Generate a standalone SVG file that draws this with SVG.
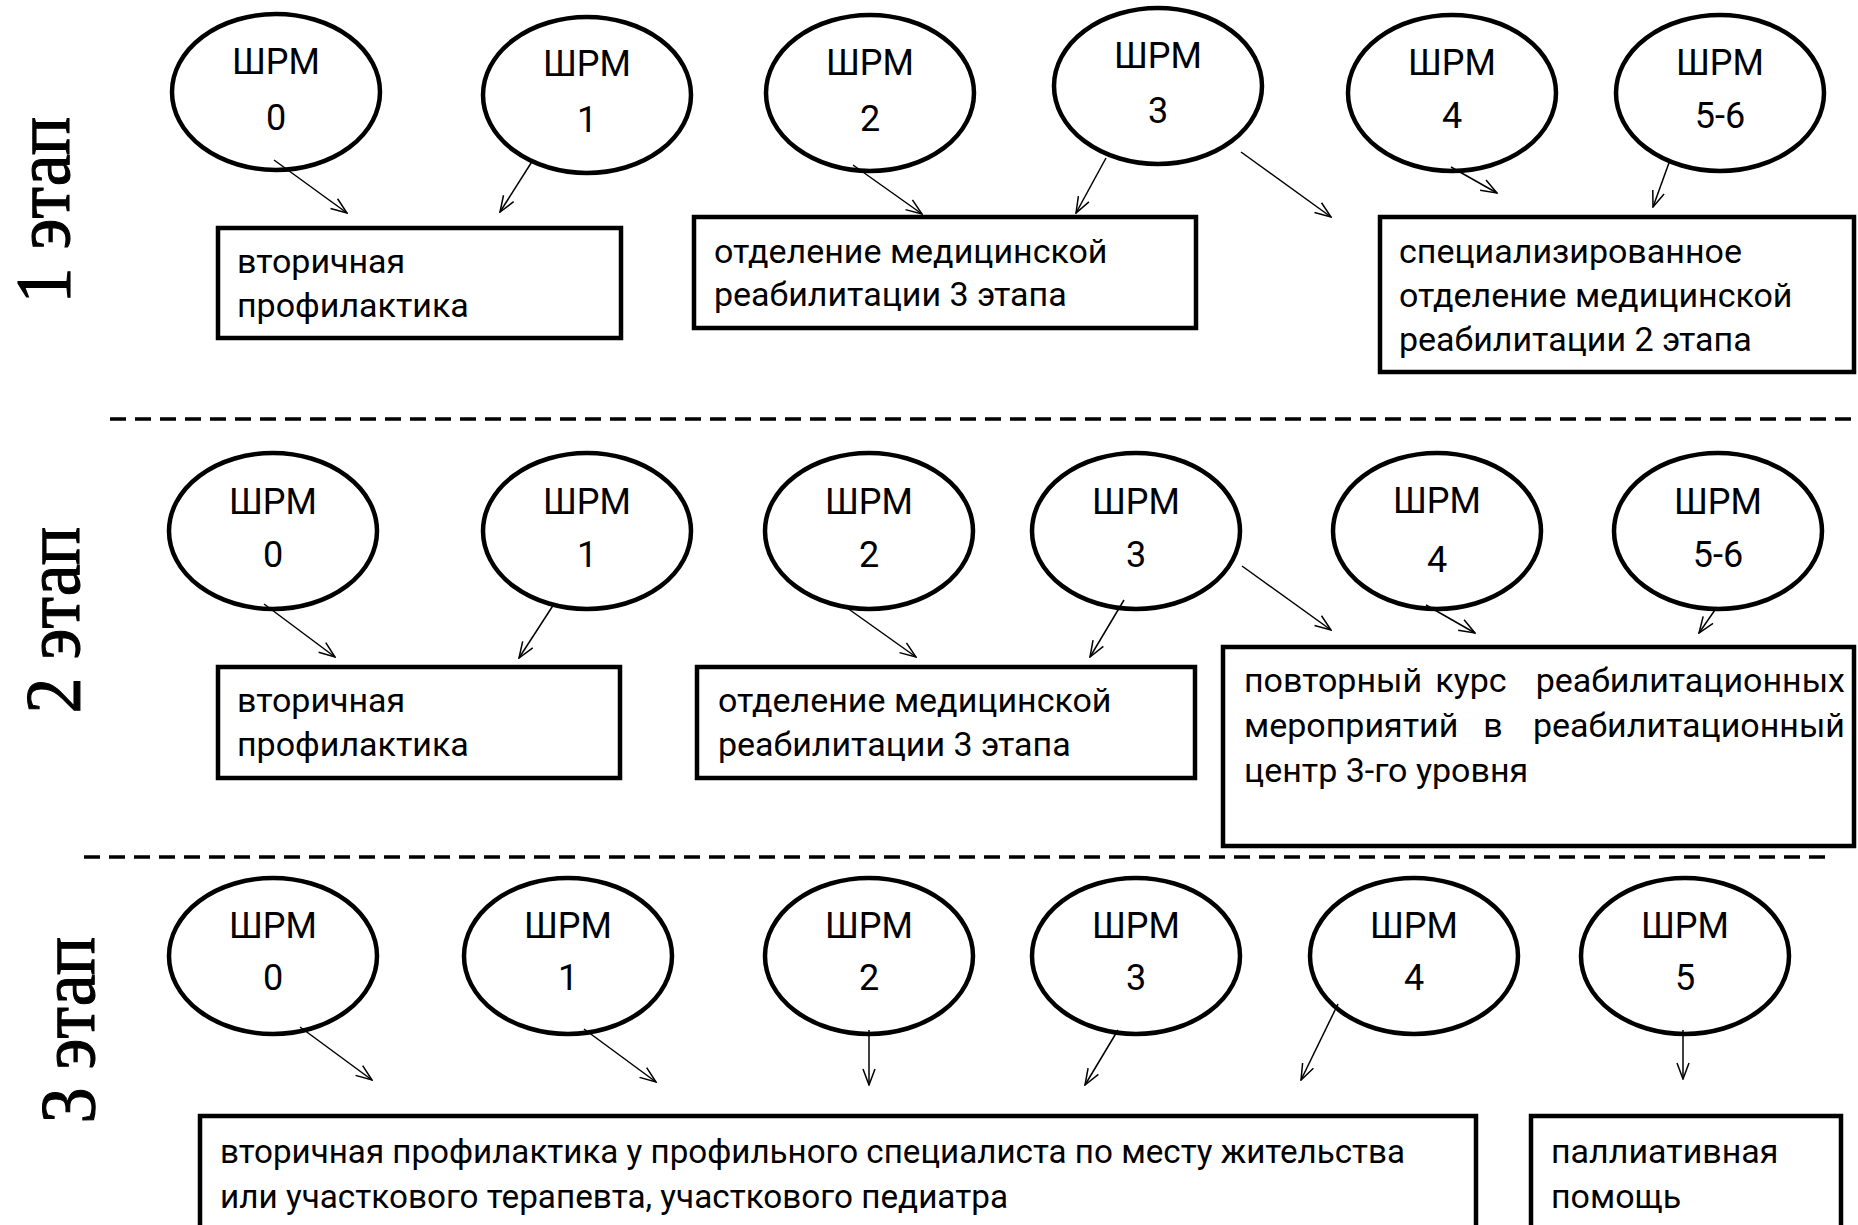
<svg xmlns="http://www.w3.org/2000/svg" width="1858" height="1225" viewBox="0 0 1858 1225">
<defs>
<style>
.bg{fill:#fff}
.node ellipse{fill:#fff;stroke:#000;stroke-width:4.5}
.box rect{fill:#fff;stroke:#000;stroke-width:4.5}
.t{font-family:Roboto,"Open Sans","Liberation Sans",sans-serif;font-size:34px;fill:#000}
.c{font-family:Roboto,"Open Sans","Liberation Sans",sans-serif;font-size:36px;fill:#000;text-anchor:middle}
.stage{font-family:"Liberation Serif","Times New Roman",serif;font-size:72px;fill:#000;stroke:#000;stroke-width:1;text-anchor:middle}
.dash{stroke:#000;stroke-width:3.5;stroke-dasharray:16 9;fill:none}
#connectors line{stroke:#000;stroke-width:1.5;fill:none;marker-end:url(#arr)}
</style>
<marker id="arr" viewBox="0 0 18 14" refX="17" refY="7" markerWidth="18" markerHeight="14" markerUnits="userSpaceOnUse" orient="auto">
<path d="M1,1 L17,7 L1,13" fill="none" stroke="#000" stroke-width="1.5"/>
</marker>
</defs>
<rect class="bg" x="0" y="0" width="1858" height="1225"/>

<g id="stages">
<text class="stage" transform="translate(69,210) rotate(-90) scale(1,1.1)">1 этап</text>
<text class="stage" transform="translate(79,620) rotate(-90) scale(1,1.1)">2 этап</text>
<text class="stage" transform="translate(94,1030) rotate(-90) scale(1,1.1)">3 этап</text>
</g>

<g id="separators">
<line class="dash" x1="110" y1="419" x2="1858" y2="419"/>
<line class="dash" x1="84" y1="857" x2="1831" y2="857"/>
</g>

<!-- Row 1 -->
<g id="r1-e0" class="node"><ellipse cx="276" cy="92" rx="104" ry="78"/><text class="c" x="276" y="74">ШРМ</text><text class="c" x="276" y="130">0</text></g>
<g id="r1-e1" class="node"><ellipse cx="587" cy="95" rx="104" ry="78"/><text class="c" x="587" y="76">ШРМ</text><text class="c" x="587" y="132">1</text></g>
<g id="r1-e2" class="node"><ellipse cx="870" cy="93" rx="104" ry="78"/><text class="c" x="870" y="75">ШРМ</text><text class="c" x="870" y="131">2</text></g>
<g id="r1-e3" class="node"><ellipse cx="1158" cy="86" rx="104" ry="78"/><text class="c" x="1158" y="68">ШРМ</text><text class="c" x="1158" y="123">3</text></g>
<g id="r1-e4" class="node"><ellipse cx="1452" cy="93" rx="104" ry="78"/><text class="c" x="1452" y="75">ШРМ</text><text class="c" x="1452" y="128">4</text></g>
<g id="r1-e5" class="node"><ellipse cx="1720" cy="93" rx="104" ry="78"/><text class="c" x="1720" y="75">ШРМ</text><text class="c" x="1720" y="128">5-6</text></g>

<g id="r1-b1" class="box"><rect x="218" y="228" width="403" height="110"/><text class="t" x="237" y="273">вторичная</text><text class="t" x="237" y="317">профилактика</text></g>
<g id="r1-b2" class="box"><rect x="694" y="217" width="502" height="111"/><text class="t" x="714" y="263">отделение медицинской</text><text class="t" x="714" y="306">реабилитации 3 этапа</text></g>
<g id="r1-b3" class="box"><rect x="1380" y="217" width="474" height="155"/><text class="t" x="1399" y="263">специализированное</text><text class="t" x="1399" y="307">отделение медицинской</text><text class="t" x="1399" y="351">реабилитации 2 этапа</text></g>

<!-- Row 2 -->
<g id="r2-e0" class="node"><ellipse cx="273" cy="531" rx="104" ry="78"/><text class="c" x="273" y="514">ШРМ</text><text class="c" x="273" y="567">0</text></g>
<g id="r2-e1" class="node"><ellipse cx="587" cy="531" rx="104" ry="78"/><text class="c" x="587" y="514">ШРМ</text><text class="c" x="587" y="567">1</text></g>
<g id="r2-e2" class="node"><ellipse cx="869" cy="531" rx="104" ry="78"/><text class="c" x="869" y="514">ШРМ</text><text class="c" x="869" y="567">2</text></g>
<g id="r2-e3" class="node"><ellipse cx="1136" cy="531" rx="104" ry="78"/><text class="c" x="1136" y="514">ШРМ</text><text class="c" x="1136" y="567">3</text></g>
<g id="r2-e4" class="node"><ellipse cx="1437" cy="531" rx="104" ry="78"/><text class="c" x="1437" y="513">ШРМ</text><text class="c" x="1437" y="572">4</text></g>
<g id="r2-e5" class="node"><ellipse cx="1718" cy="531" rx="104" ry="78"/><text class="c" x="1718" y="514">ШРМ</text><text class="c" x="1718" y="567">5-6</text></g>

<g id="r2-b1" class="box"><rect x="218" y="667" width="402" height="111"/><text class="t" x="237" y="712">вторичная</text><text class="t" x="237" y="756">профилактика</text></g>
<g id="r2-b2" class="box"><rect x="697" y="667" width="498" height="111"/><text class="t" x="718" y="712">отделение медицинской</text><text class="t" x="718" y="756">реабилитации 3 этапа</text></g>
<g id="r2-b3" class="box"><rect x="1223" y="647" width="631" height="199"/>
<text class="t" x="1244" y="692">повторный</text><text class="t" x="1471" y="692" text-anchor="middle">курс</text><text class="t" x="1845" y="692" text-anchor="end">реабилитационных</text>
<text class="t" x="1244" y="737">мероприятий</text><text class="t" x="1493" y="737" text-anchor="middle">в</text><text class="t" x="1845" y="737" text-anchor="end">реабилитационный</text>
<text class="t" x="1244" y="782">центр 3-го уровня</text></g>

<!-- Row 3 -->
<g id="r3-e0" class="node"><ellipse cx="273" cy="956" rx="104" ry="78"/><text class="c" x="273" y="938">ШРМ</text><text class="c" x="273" y="990">0</text></g>
<g id="r3-e1" class="node"><ellipse cx="568" cy="956" rx="104" ry="78"/><text class="c" x="568" y="938">ШРМ</text><text class="c" x="568" y="990">1</text></g>
<g id="r3-e2" class="node"><ellipse cx="869" cy="956" rx="104" ry="78"/><text class="c" x="869" y="938">ШРМ</text><text class="c" x="869" y="990">2</text></g>
<g id="r3-e3" class="node"><ellipse cx="1136" cy="956" rx="104" ry="78"/><text class="c" x="1136" y="938">ШРМ</text><text class="c" x="1136" y="990">3</text></g>
<g id="r3-e4" class="node"><ellipse cx="1414" cy="956" rx="104" ry="78"/><text class="c" x="1414" y="938">ШРМ</text><text class="c" x="1414" y="990">4</text></g>
<g id="r3-e5" class="node"><ellipse cx="1685" cy="956" rx="104" ry="78"/><text class="c" x="1685" y="938">ШРМ</text><text class="c" x="1685" y="990">5</text></g>

<g id="r3-b1" class="box"><rect x="200" y="1116" width="1276" height="130"/><text class="t" x="220" y="1163" textLength="1185" lengthAdjust="spacingAndGlyphs">вторичная профилактика у профильного специалиста по месту жительства</text><text class="t" x="220" y="1208" textLength="788" lengthAdjust="spacingAndGlyphs">или участкового терапевта, участкового педиатра</text></g>
<g id="r3-b2" class="box"><rect x="1531" y="1116" width="310" height="130"/><text class="t" x="1551" y="1163">паллиативная</text><text class="t" x="1551" y="1208">помощь</text></g>

<g id="connectors">
<line x1="274" y1="160" x2="347" y2="213"/>
<line x1="533" y1="160" x2="500" y2="212"/>
<line x1="853" y1="165" x2="922" y2="214"/>
<line x1="1106" y1="158" x2="1076" y2="213"/>
<line x1="1241" y1="152" x2="1331" y2="217"/>
<line x1="1451" y1="167" x2="1497" y2="193"/>
<line x1="1670" y1="160" x2="1653" y2="207"/>
<line x1="264" y1="604" x2="335" y2="657"/>
<line x1="554" y1="604" x2="519" y2="658"/>
<line x1="843" y1="605" x2="916" y2="657"/>
<line x1="1124" y1="600" x2="1090" y2="657"/>
<line x1="1242" y1="566" x2="1331" y2="630"/>
<line x1="1426" y1="605" x2="1475" y2="633"/>
<line x1="1717" y1="607" x2="1699" y2="633"/>
<line x1="300" y1="1027" x2="372" y2="1080"/>
<line x1="584" y1="1029" x2="656" y2="1082"/>
<line x1="869" y1="1030" x2="869" y2="1085"/>
<line x1="1118" y1="1030" x2="1085" y2="1085"/>
<line x1="1338" y1="1004" x2="1301" y2="1080"/>
<line x1="1683" y1="1030" x2="1683" y2="1079"/>
</g>
</svg>
